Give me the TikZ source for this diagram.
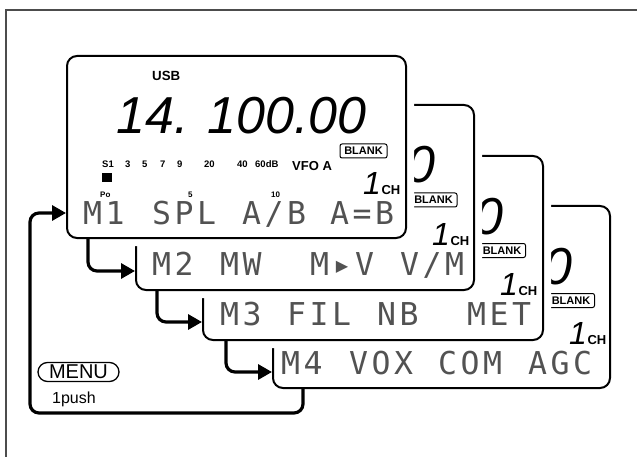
\documentclass[tikz,border=0pt]{standalone}
\usepackage{fontspec}
\setmainfont{Liberation Sans}
\newfontfamily\dotfont{DejaVu Sans Mono}[LetterSpace=11]
\usetikzlibrary{arrows.meta,shapes.misc,calc}
\tikzset{
  panel/.style={draw, line width=2pt, fill=white, rounded corners=10pt, inner sep=0pt,
    preaction={draw=white, line width=16pt}},
  dotrow/.style={anchor=base west, inner sep=0pt, text=black!68,
    font={\dotfont\fontsize{31.5}{32}\selectfont}},
  segbig/.style={anchor=base east, inner sep=0pt, font={\fontsize{52}{52}\selectfont\itshape}},
  blankbox/.style={draw, line width=1pt, rounded corners=2pt, inner sep=0pt,
    minimum width=47pt, minimum height=14pt, text height=8pt, text depth=0pt,
    font={\fontsize{11}{11}\selectfont\bfseries}},
  chlabel/.style={anchor=base west, inner sep=0pt},
  smallb/.style={anchor=base west, inner sep=0pt, font={\fontsize{9.5}{9.5}\selectfont\bfseries}},
  tinyb/.style={anchor=base west, inner sep=0pt, font={\fontsize{8}{8}\selectfont\bfseries}},
  midb/.style={anchor=base west, inner sep=0pt, font={\fontsize{13.3}{13.3}\selectfont\bfseries}},
  arr/.style={line width=3.2pt, rounded corners=9pt, -{Triangle[length=14pt,width=15pt]}},
  menubox/.style={draw, line width=1.3pt, shape=rounded rectangle, minimum width=81pt,
    minimum height=19pt, inner sep=0pt, font={\fontsize{20}{20}\selectfont}},
  frameline/.style={draw=black!70, line width=1.2pt}
}
\newcommand{\chtext}{{\fontsize{32}{32}\selectfont\itshape 1}\hspace{0.5pt}{\fontsize{13}{13}\selectfont\bfseries CH}}
\begin{document}
\begin{tikzpicture}[x=1pt,y=-1pt]
\useasboundingbox (0,0) rectangle (637,457);
\draw[frameline] (6,457) -- (6,10) -- (637,10);

% ---------- panel 4 ----------
\node[panel, minimum width=337pt, minimum height=182pt] (p4) at (441.5,297) {};
\node[segbig] (d4) at (573,284) {0};
\node[blankbox] (b4) at (571,300.5) {BLANK};
\node[chlabel] (c4) at (569,344) {\chtext};
\node[dotrow] (r4a) at (281,374) {M4};
\node[dotrow] (r4b) at (349,374) {VOX};
\node[dotrow] (r4c) at (438,374) {COM};
\node[dotrow] (r4d) at (528,374) {AGC};

% ---------- panel 3 ----------
\node[panel, minimum width=340pt, minimum height=184pt] (p3) at (373,248) {};
\node[segbig] (d3) at (504,234) {0};
\node[blankbox] (b3) at (502,250.5) {BLANK};
\node[chlabel] (c3) at (500,295) {\chtext};
\node[dotrow] (r3a) at (220,325) {M3};
\node[dotrow] (r3b) at (287,325) {FIL};
\node[dotrow] (r3c) at (377,325) {NB};
\node[dotrow] (r3d) at (467,325) {MET};

% ---------- panel 2 ----------
\node[panel, minimum width=338pt, minimum height=185pt] (p2) at (305,197.5) {};
\node[segbig] (d2) at (436,183) {0};
\node[blankbox] (b2) at (433.5,200) {BLANK};
\node[chlabel] (c2) at (432,245) {\chtext};
\node[dotrow] (r2a) at (152,275) {M2};
\node[dotrow] (r2b) at (220,275) {MW};
\node[dotrow] (r2c) at (310,275) {M▸V};
\node[dotrow] (r2d) at (400,275) {V/M};

% ---------- panel 1 ----------
\node[panel, minimum width=339pt, minimum height=182pt] (p1) at (236.5,147) {};
\node[midb] (usb) at (152,81) {USB};
\node[segbig] (freq) at (367,134) {14. 100.00};
\node[smallb] (s1) at (102,168) {S1};
\node[smallb] (s3) at (125,168) {3};
\node[smallb] (s5) at (142,168) {5};
\node[smallb] (s7) at (160,168) {7};
\node[smallb] (s9) at (177,168) {9};
\node[smallb] (s20) at (204,168) {20};
\node[smallb] (s40) at (237,168) {40};
\node[smallb] (s60) at (255,168) {60dB};
\node[anchor=base west, inner sep=0pt, font={\fontsize{13}{13}\selectfont\bfseries}] (vfo) at (292,171) {VFO A};
\fill (102,173) rectangle (112,182);
\node[tinyb] (po) at (100,198) {Po};
\node[tinyb] (p5) at (188,198) {5};
\node[tinyb] (p10) at (271,198) {10};
\node[blankbox] (b1) at (363.5,151) {BLANK};
\node[chlabel] (c1) at (363,195) {\chtext};
\node[dotrow] (r1a) at (83,225) {M1};
\node[dotrow] (r1b) at (152,225) {SPL};
\node[dotrow] (r1c) at (242,225) {A/B};
\node[dotrow] (r1d) at (330,225) {A=B};

% ---------- arrows ----------
\draw[arr] ([xshift=22pt]p1.south west) |- (p2.west |- 0,271);
\draw[arr] ([xshift=22pt]p2.south west) |- (p3.west |- 0,322);
\draw[arr] ([xshift=24pt]p3.south west) |- (p4.west |- 0,372);
\draw[arr] ([xshift=31pt]p4.south west) |- (30,413) |- (p1.west |- 0,213);

% ---------- menu ----------
\node[menubox] (menu) at (78.5,372) {MENU};
\node[anchor=base west, inner sep=0pt, font={\fontsize{16}{16}\selectfont}] (push) at (52,403) {1push};
\end{tikzpicture}
\end{document}
